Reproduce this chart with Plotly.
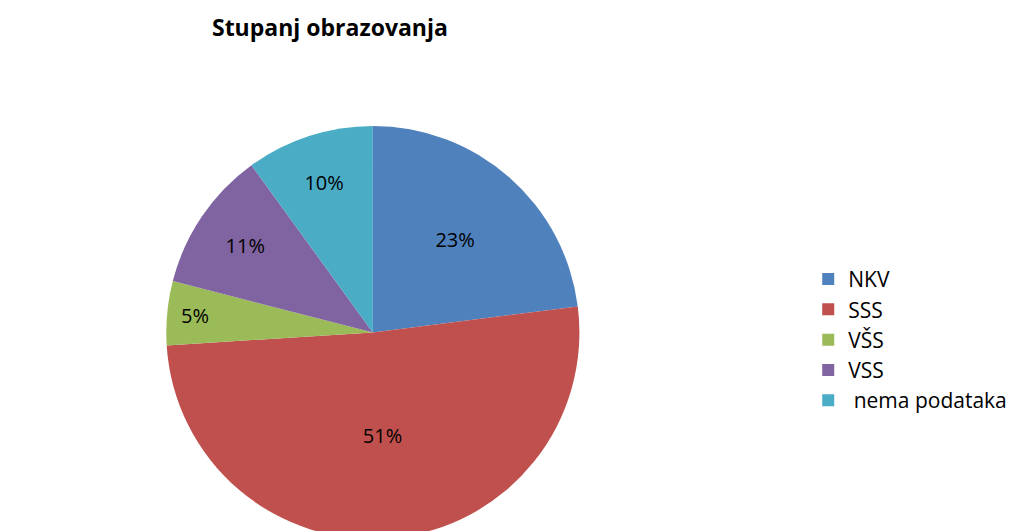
import plotly.graph_objects as go

categories = ["NKV", "SSS", "VŠS", "VSS", " nema podataka"]
values = [23, 51, 5, 11, 10]
colors = ["#4F81BD", "#C0504D", "#9BBB59", "#8064A2", "#4BACC6"]

FONT = "Open Sans, Carlito, sans-serif"

fig = go.Figure(go.Pie(
    labels=categories,
    values=values,
    sort=False,
    direction="clockwise",
    rotation=0,
    marker=dict(colors=colors, line=dict(color="white", width=0)),
    textinfo="percent",
    texttemplate="%{percent:.0%}",
    textposition="inside",
    insidetextorientation="horizontal",
    textfont=dict(size=20, color="black", family=FONT),
    domain=dict(x=[0.0, 0.714], y=[0.0, 0.778]),
    hoverinfo="label+percent",
))

fig.update_layout(
    width=1022, height=531,
    paper_bgcolor="white",
    margin=dict(l=0, r=0, t=0, b=0),
    title=dict(text="<b>Stupanj obrazovanja</b>", x=0.315, xanchor="center",
               y=0.962, yanchor="middle",
               font=dict(size=23, color="black", family=FONT)),
    legend=dict(x=0.783, xanchor="left", y=0.375, yanchor="middle",
                font=dict(size=21, color="black", family=FONT),
                itemwidth=30, traceorder="normal"),
    showlegend=True,
)

fig.write_html("out.html")
